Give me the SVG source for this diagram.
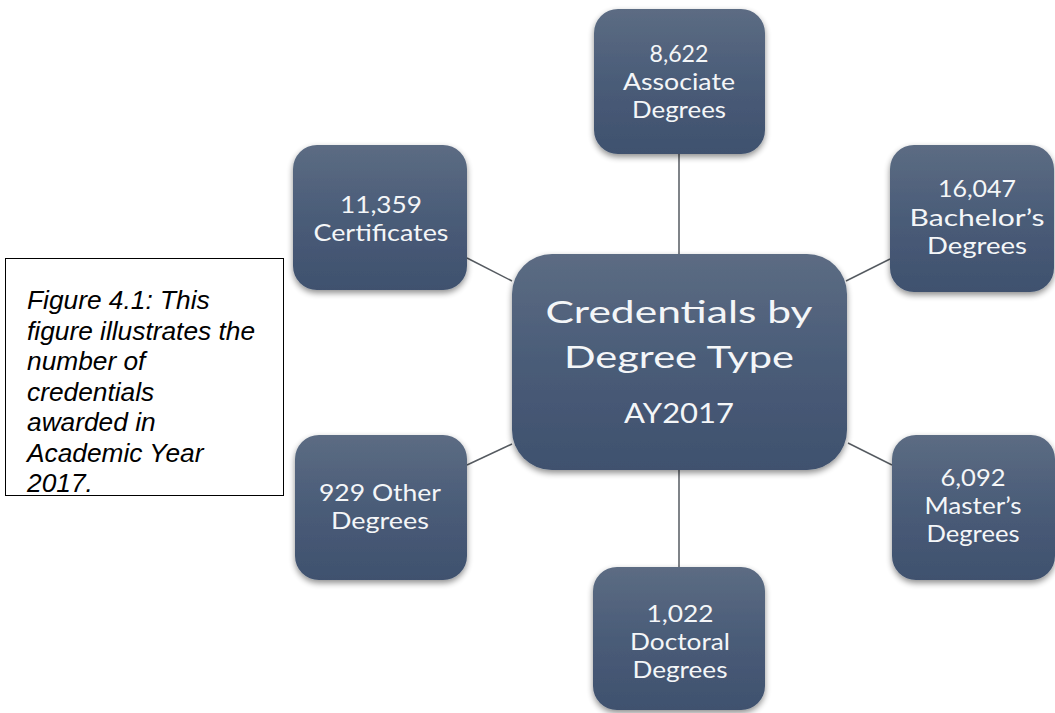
<svg xmlns="http://www.w3.org/2000/svg" width="1055" height="713" viewBox="0 0 1055 713">
  <defs>
    <linearGradient id="g" x1="0" y1="0" x2="0" y2="1">
      <stop offset="0" stop-color="#5c6c83"/>
      <stop offset="0.5" stop-color="#4a5c78"/>
      <stop offset="1" stop-color="#3f516e"/>
    </linearGradient>
    <filter id="sh" x="-10%" y="-10%" width="120%" height="125%">
      <feGaussianBlur in="SourceAlpha" stdDeviation="3"/>
      <feOffset dx="0" dy="3" result="b"/>
      <feComponentTransfer><feFuncA type="linear" slope="0.45"/></feComponentTransfer>
      <feMerge><feMergeNode/><feMergeNode in="SourceGraphic"/></feMerge>
    </filter>
    <style>
      .box { fill: url(#g); filter: url(#sh); }
      .t { font-family: Lato, "Open Sans", "DejaVu Sans", sans-serif; fill: #f4f6f8; text-anchor: middle; font-size: 23px; }
      .tc { font-size: 31px; }
      .ty { font-size: 27px; }
      .con { stroke: #555a60; stroke-width: 1.5; fill: none; }
      .cap { font-family: "Liberation Sans", Arial, sans-serif; font-style: italic; font-size: 26.3px; fill: #000; }
    </style>
  </defs>
  <rect width="1055" height="713" fill="#ffffff"/>

  <g id="connectors">
    <line class="con" x1="679" y1="154" x2="679" y2="254"/>
    <line class="con" x1="467" y1="258" x2="512" y2="281"/>
    <line class="con" x1="890" y1="259" x2="846" y2="281"/>
    <line class="con" x1="467" y1="465" x2="512" y2="444"/>
    <line class="con" x1="848" y1="443" x2="892" y2="465"/>
    <line class="con" x1="679" y1="470" x2="679" y2="567"/>
  </g>

  <g id="caption">
    <rect x="5.5" y="258.5" width="278" height="237" fill="#ffffff" stroke="#000" stroke-width="1"/>
    <text class="cap" x="27" y="309">Figure 4.1: This</text>
    <text class="cap" x="27" y="339.5">figure illustrates the</text>
    <text class="cap" x="27" y="370">number of</text>
    <text class="cap" x="27" y="400.5">credentials</text>
    <text class="cap" x="27" y="431">awarded in</text>
    <text class="cap" x="27" y="461.5">Academic Year</text>
    <text class="cap" x="27" y="492">2017.</text>
  </g>

  <g id="center">
    <rect class="box" x="512" y="254" width="335" height="216" rx="40"/>
    <text class="t tc" x="679" y="323" textLength="267" lengthAdjust="spacingAndGlyphs">Credentials by</text>
    <text class="t tc" x="679" y="368" textLength="230" lengthAdjust="spacingAndGlyphs">Degree Type</text>
    <text class="t ty" x="679" y="423" textLength="110" lengthAdjust="spacingAndGlyphs">AY2017</text>
  </g>

  <g id="associate">
    <rect class="box" x="594" y="9" width="171" height="145" rx="24"/>
    <text class="t" x="679" y="62" textLength="59" lengthAdjust="spacingAndGlyphs">8,622</text>
    <text class="t" x="679" y="90" textLength="112" lengthAdjust="spacingAndGlyphs">Associate</text>
    <text class="t" x="679" y="118" textLength="94" lengthAdjust="spacingAndGlyphs">Degrees</text>
  </g>

  <g id="certificates">
    <rect class="box" x="293" y="145" width="174" height="145" rx="24"/>
    <text class="t" x="381" y="213" textLength="82" lengthAdjust="spacingAndGlyphs">11,359</text>
    <text class="t" x="381" y="241" textLength="135" lengthAdjust="spacingAndGlyphs">Certificates</text>
  </g>

  <g id="bachelor">
    <rect class="box" x="890" y="145" width="164" height="147" rx="24"/>
    <text class="t" x="977" y="197" textLength="78" lengthAdjust="spacingAndGlyphs">16,047</text>
    <text class="t" x="977" y="226" textLength="135" lengthAdjust="spacingAndGlyphs">Bachelor’s</text>
    <text class="t" x="977" y="254" textLength="100" lengthAdjust="spacingAndGlyphs">Degrees</text>
  </g>

  <g id="other">
    <rect class="box" x="295" y="435" width="172" height="145" rx="24"/>
    <text class="t" x="380" y="501" textLength="122" lengthAdjust="spacingAndGlyphs">929 Other</text>
    <text class="t" x="380" y="529" textLength="98" lengthAdjust="spacingAndGlyphs">Degrees</text>
  </g>

  <g id="master">
    <rect class="box" x="892" y="435" width="163" height="145" rx="24"/>
    <text class="t" x="973" y="486" textLength="65" lengthAdjust="spacingAndGlyphs">6,092</text>
    <text class="t" x="973" y="514" textLength="97" lengthAdjust="spacingAndGlyphs">Master’s</text>
    <text class="t" x="973" y="542" textLength="93" lengthAdjust="spacingAndGlyphs">Degrees</text>
  </g>

  <g id="doctoral">
    <rect class="box" x="593" y="567" width="172" height="143" rx="24"/>
    <text class="t" x="680" y="622" textLength="67" lengthAdjust="spacingAndGlyphs">1,022</text>
    <text class="t" x="680" y="650" textLength="100" lengthAdjust="spacingAndGlyphs">Doctoral</text>
    <text class="t" x="680" y="678" textLength="95" lengthAdjust="spacingAndGlyphs">Degrees</text>
  </g>
</svg>
